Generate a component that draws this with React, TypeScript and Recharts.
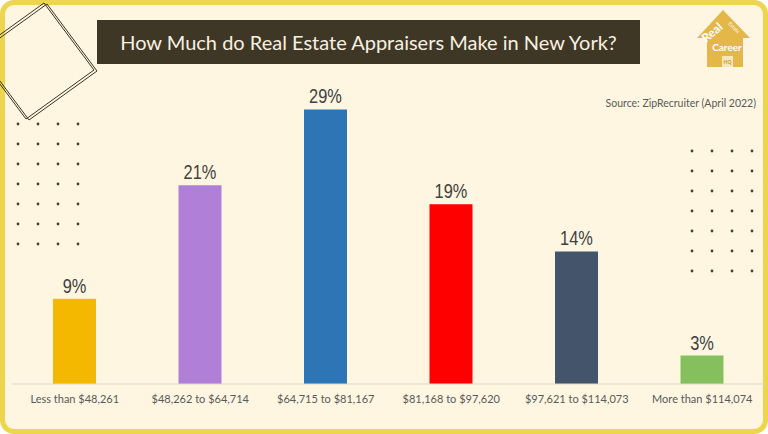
import React from "react"
import { BarChart, Bar, XAxis, YAxis, Cell, LabelList } from "recharts"

const ranges = [
  "Less than $48,261",
  "$48,262 to $64,714",
  "$64,715 to $81,167",
  "$81,168 to $97,620",
  "$97,621 to $114,073",
  "More than $114,074",
]
const shares = [9, 21, 29, 19, 14, 3]
const barColors = ["#F5B800", "#B07FD8", "#2E75B6", "#FF0000", "#44546A", "#86C05E"]

const data = ranges.map((range, i) => ({ range, share: shares[i] }))

// decorative dot grids
const dotCols = [0, 1, 2, 3]
const dotRows = [0, 1, 2, 3, 4, 5, 6]

function Decorations() {
  const sq = (dx: number, dy: number) =>
    [[44, 3], [94, 70], [26, 119], [-24, 52]].map(([x, y]) => `${x + dx},${y + dy}`).join(" ")
  return (
    <svg width={768} height={434} style={{ position: "absolute", left: 0, top: 0 }}>
      <polygon points={sq(0, 0)} fill="none" stroke="#3D3525" strokeWidth={1} />
      <polygon points={sq(3, 1)} fill="none" stroke="#3D3525" strokeWidth={1} />
      {dotRows.map((r) =>
        dotCols.map((c) => (
          <circle key={`l-${r}-${c}`} cx={18 + c * 20} cy={124 + r * 20} r={1.4} fill="#4A4030" />
        ))
      )}
      {dotRows.map((r) =>
        dotCols.map((c) => (
          <circle key={`r-${r}-${c}`} cx={692 + c * 20} cy={151 + r * 20} r={1.4} fill="#4A4030" />
        ))
      )}
      {/* logo */}
      <polygon points="723,10 750,38 743,38 743,67 707,67 707,38 697,38" fill="#E3B748" />
      <rect x={722} y={56} width={11} height={11} fill="#F6E7B8" />
      <text x={727.5} y={64} fill="#C89A30" fontSize={5} fontWeight="bold" fontFamily="Lato" textAnchor="middle">
        HQ
      </text>
      <text x={706} y={43} fill="#fff" fontSize={12} fontWeight="bold" fontFamily="Lato" transform="rotate(-40 706 43)">
        Real
      </text>
      <text x={728} y={24} fill="#fff" fontSize={5} fontFamily="Lato" transform="rotate(45 728 24)">
        Estate
      </text>
      <text x={727} y={51} fill="#fff" fontSize={10} fontWeight="bold" fontFamily="Lato" textAnchor="middle">
        Career
      </text>
      <text x={756} y={107} fill="#595959" fontSize={10.5} fontFamily="Lato" textAnchor="end">
        Source: ZipRecruiter (April 2022)
      </text>
    </svg>
  )
}

function PctLabel(props: any) {
  const { x, y, width, value } = props
  const cx = x + width / 2
  const by = y - 6
  return (
    <text
      x={0}
      y={0}
      transform={`translate(${cx},${by}) scale(0.82,1)`}
      textAnchor="middle"
      fill="#404040"
      fontSize={20}
      fontFamily="Liberation Sans, Arial, sans-serif"
    >
      {`${value}%`}
    </text>
  )
}

export default function App() {
  return (
    <div
      style={{
        position: "absolute",
        left: 0,
        top: 0,
        width: 768,
        height: 434,
        background: "#fff",
      }}
    >
      <div
        style={{
          position: "absolute",
          left: 0,
          top: 0,
          width: 768,
          height: 434,
          boxSizing: "border-box",
          border: "5px solid #EDD54E",
          borderRadius: 14,
          background: "#FEF6E1",
        }}
      />
      <Decorations />
      <div
        style={{
          position: "absolute",
          left: 97,
          top: 20,
          width: 543,
          height: 44,
          background: "#3F3726",
          color: "#F7F0E0",
          fontFamily: "Lato, sans-serif",
          fontSize: 20,
          lineHeight: "44px",
          textAlign: "center",
        }}
      >
        How Much do Real Estate Appraisers Make in New York?
      </div>
      <div style={{ position: "absolute", left: 0, top: 0 }}>
        <BarChart width={768} height={434} data={data} margin={{ top: 100, right: 3, bottom: 20, left: 12 }}>
          <YAxis hide domain={[0, 30]} />
          <XAxis
            dataKey="range"
            interval={0}
            tickLine={false}
            axisLine={{ stroke: "#DCD6C6" }}
            tickMargin={5}
            height={30}
            tick={{ fontSize: 11, fill: "#595959", fontFamily: "Lato" }}
          />
          <Bar dataKey="share" barSize={43} isAnimationActive={false}>
            {data.map((entry, index) => (
              <Cell key={`cell-${index}`} fill={barColors[index]} />
            ))}
            <LabelList dataKey="share" content={PctLabel} />
          </Bar>
        </BarChart>
      </div>
    </div>
  )
}
